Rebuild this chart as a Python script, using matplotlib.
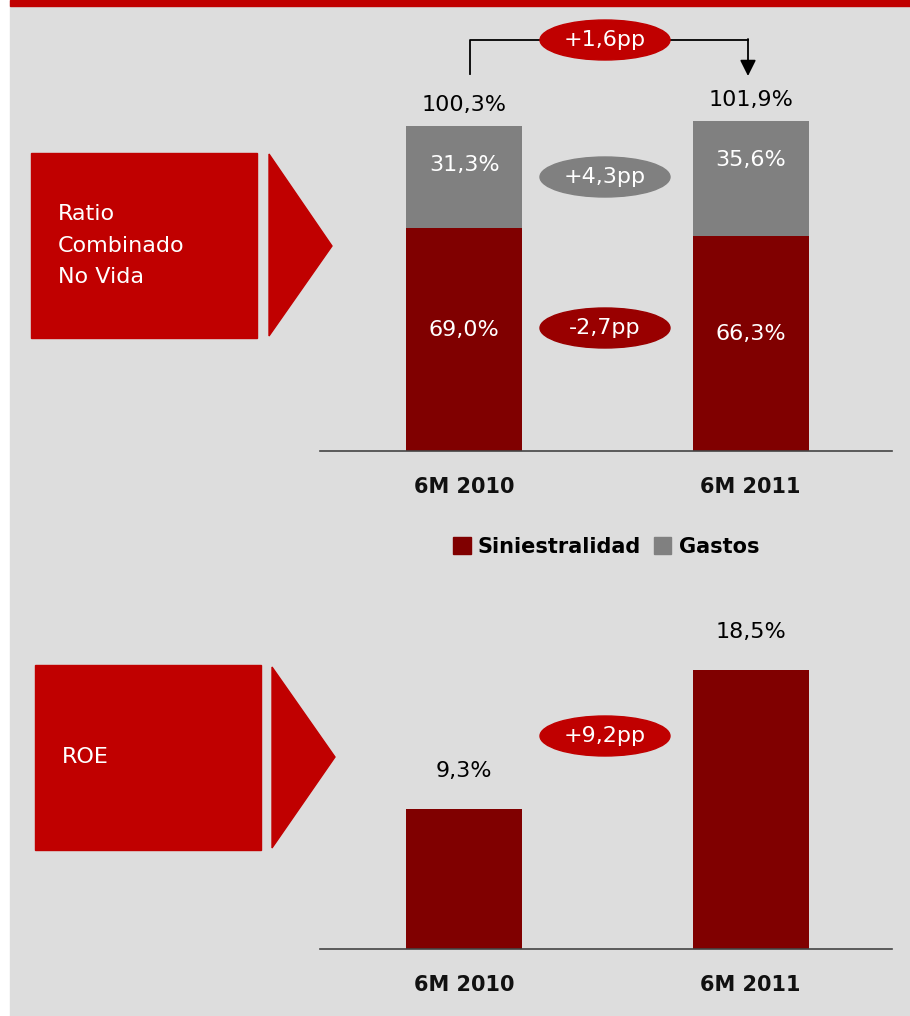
import matplotlib.pyplot as plt
from matplotlib.patches import Rectangle, Polygon, Ellipse, Patch

# data
periods = ['6M 2010', '6M 2011']
siniestralidad = [69.0, 66.3]
gastos = [31.3, 35.6]
ratio_total = [100.3, 101.9]
roe = [9.3, 18.5]

DARK_RED = '#800000'
GREY = '#808080'
RED = '#C00000'
BG = '#DDDDDD'
W, H = 910, 1016

plt.rcParams['font.family'] = ['DejaVu Sans']


def fmt(v):
    return f'{v:.1f}%'.replace('.', ',')


def fmt_pp(v):
    return f'{v:+.1f}pp'.replace('.', ',')


def px_axes(x0, y0, x1, y1):
    # pixel box (top-left origin) -> figure fraction rect
    return [x0 / W, 1 - y1 / H, (x1 - x0) / W, (y1 - y0) / H]


fig = plt.figure(figsize=(W / 100, H / 100), dpi=100, facecolor='white')

# decoration layer in pixel coordinates
deco = fig.add_axes([0, 0, 1, 1], zorder=0)
deco.set_xlim(0, W)
deco.set_ylim(H, 0)
deco.axis('off')
deco.add_patch(Rectangle((10, 0), W - 10, H, color=BG))
deco.add_patch(Rectangle((10, 0), W - 10, 6, color=RED))

# left boxes with arrows
deco.add_patch(Rectangle((31, 153), 226, 185, color=RED))
deco.add_patch(Polygon([(269, 154), (332, 246), (269, 336)], color=RED))
for txt, y in zip(['Ratio', 'Combinado', 'No Vida'], [214, 246, 277]):
    deco.text(58, y, txt, color='white', fontsize=16, va='center', ha='left')

deco.add_patch(Rectangle((35, 665), 226, 185, color=RED))
deco.add_patch(Polygon([(272, 667), (335, 757), (272, 848)], color=RED))
deco.text(62, 757, 'ROE', color='white', fontsize=16, va='center', ha='left')


def pill(x, y, text, color, h=40):
    deco.add_patch(Ellipse((x, y), 130, h, color=color, zorder=5))
    deco.text(x, y, text, color='white', fontsize=16, ha='center', va='center', zorder=6)


# bracket with arrow for total change
deco.plot([470, 470, 748], [74, 40, 40], color='black', lw=1.3, zorder=2)
deco.annotate('', xy=(748, 76), xytext=(748, 39),
              arrowprops=dict(arrowstyle='-|>', color='black', lw=1.3,
                              mutation_scale=24, shrinkA=0, shrinkB=0), zorder=2)
pill(605, 40, fmt_pp(ratio_total[1] - ratio_total[0]), RED, h=40)
pill(605, 177, fmt_pp(gastos[1] - gastos[0]), GREY)
pill(605, 328, fmt_pp(siniestralidad[1] - siniestralidad[0]), '#990000')
pill(605, 736, fmt_pp(roe[1] - roe[0]), RED)

x = [0, 1]
bw = 0.405

# top stacked chart
ax1 = fig.add_axes(px_axes(320, 121, 892, 451), zorder=1)
ax1.set_facecolor('none')
ax1.bar(x, siniestralidad, bw, color=DARK_RED)
ax1.bar(x, gastos, bw, bottom=siniestralidad, color=GREY)
ax1.set_xlim(-0.503, 1.494)
ax1.set_ylim(0, 101.9)
for i in x:
    ax1.text(i, siniestralidad[i] / 2 + 3, fmt(siniestralidad[i]), color='white',
             fontsize=16, ha='center', va='center')
    top = siniestralidad[i] + gastos[i]
    ax1.annotate(fmt(gastos[i]), (i, top), xytext=(0, -28), textcoords='offset points',
                 color='white', fontsize=16, ha='center', va='center')
    ax1.annotate(fmt(ratio_total[i]), (i, top), xytext=(0, 15), textcoords='offset points',
                 color='black', fontsize=16, ha='center', va='center',
                 annotation_clip=False)

# bottom ROE chart
ax2 = fig.add_axes(px_axes(320, 670, 892, 949), zorder=1)
ax2.set_facecolor('none')
ax2.bar(x, roe, bw, color=DARK_RED)
ax2.set_xlim(-0.503, 1.494)
ax2.set_ylim(0, 18.5)
for i in x:
    ax2.annotate(fmt(roe[i]), (i, roe[i]), xytext=(0, 27), textcoords='offset points',
                 color='black', fontsize=16, ha='center', va='center',
                 annotation_clip=False)

for ax in (ax1, ax2):
    for s in ('top', 'right', 'left'):
        ax.spines[s].set_visible(False)
    ax.spines['bottom'].set_color('#444444')
    ax.spines['bottom'].set_linewidth(1.2)
    ax.set_yticks([])
    ax.set_xticks(x)
    ax.set_xticklabels(periods, fontsize=15, fontweight='bold', color='#111111')
    ax.tick_params(axis='x', length=0, pad=19)

handles = [Patch(color=DARK_RED, label='Siniestralidad'), Patch(color=GREY, label='Gastos')]
fig.legend(handles=handles, loc='center', bbox_to_anchor=(606 / W, 1 - 547 / H), ncol=2,
           frameon=False, prop={'size': 15, 'weight': 'bold'}, handlelength=0.85,
           handleheight=0.9, handletextpad=0.35, columnspacing=0.6)

fig.savefig('out.png', dpi=100, facecolor=fig.get_facecolor())
